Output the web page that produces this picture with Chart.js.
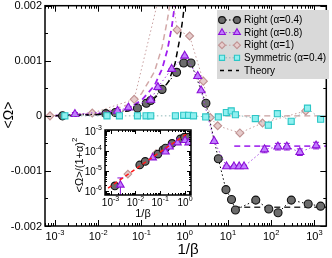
<!DOCTYPE html>
<html>
<head>
<meta charset="utf-8">
<script src="https://cdn.jsdelivr.net/npm/chart.js@4.4.0/dist/chart.umd.min.js"></script>
<style>
  html, body { margin: 0; padding: 0; background: #fff; }
  #wrap { position: relative; width: 332px; height: 258px; }
  canvas { position: absolute; left: 0; top: 0; }
</style>
</head>
<body>
<div id="wrap">
  <canvas id="mainChart" width="332" height="258"></canvas>
  <canvas id="insetChart" width="332" height="258"></canvas>
</div>
<script>
// ---- data ----
// main panel: <Omega> vs 1/beta
const r04X = [0.0015, 0.015, 0.025, 0.081, 0.13, 0.164, 0.30, 0.65, 0.95, 1.4, 3.1, 6.0, 9.0, 12.1, 14.9, 44, 88, 144, 292, 717, 1390];
const r04Y = [0.0, 0.00004, 0.00006, 0.00014, 0.00023, 0.00028, 0.00048, 0.00079, 0.00096, 0.00096, 0.00023, -0.00078, -0.00134, -0.00152, -0.00171, -0.00153, -0.00169, -0.00176, -0.00153, -0.00160, -0.00164];

const r08X = [0.0029, 0.028, 0.050, 0.164, 0.24, 0.50, 1.0, 2.0, 2.4, 4.8, 9.3, 13.8, 18.2, 23.6, 70, 143, 230, 460, 1090];
const r08Y = [0.00003, 0.00009, 0.00015, 0.00029, 0.00052, 0.00085, 0.00109, 0.00072, 0.00046, -0.00046, -0.00092, -0.00092, -0.00092, -0.00092, -0.00061, -0.00056, -0.00056, -0.00066, -0.00054];
const r08Err = [0.00003, 0.00001, 0.00001, 0.00001, 0.00001, 0.00001, 0.00001, 0.00001, 0.00001, 0.00001, 0.00002, 0.00002, 0.00002, 0.00002, 0.00006, 0.00006, 0.00006, 0.00006, 0.00006];

const r1X = [0.00077, 0.0073, 0.068, 0.40, 0.67, 1.3, 2.7, 3.9, 5.8, 18.9, 63, 630];
const r1Y = [0.0, 0.00005, 0.0003, 0.0028, 0.00156, 0.00145, 0.00063, -0.00003, -0.00018, -0.00031, -0.00013, 0.00009];

const symX = [0.0017, 0.016, 0.031, 0.081, 0.128, 0.164, 0.61, 0.95, 1.23, 1.6, 3.06, 6.0, 9.2, 11.9, 14.9, 43, 86, 139, 290, 690, 1390];
const symY = [0.0, 0.0, 0.0, 0.0, 0.0, 0.0, 0.0, 0.00001, 0.00001, 0.0, -0.00002, -0.00002, 0.00006, 0.00009, 0.00002, -0.00005, -0.00017, 0.00004, -0.0001, 0.00014, -0.00006];

// theory curves (dashed)
const th04X = [0.0006, 0.01, 0.05, 0.1, 0.2, 0.3, 0.43, 0.6, 0.8, 0.9, 1.0];
const th04Y = [0.0, 0.00002, 0.00009, 0.00017, 0.00032, 0.00046, 0.00063, 0.00095, 0.00147, 0.00175, 0.00205];
const th08X = [0.0006, 0.01, 0.05, 0.1, 0.2, 0.3, 0.4, 0.5, 0.6];
const th08Y = [0.0, 0.00003, 0.00014, 0.00028, 0.00055, 0.00085, 0.0012, 0.0016, 0.00205];
const th1X = [0.0006, 0.01, 0.05, 0.1, 0.2, 0.3, 0.4, 0.46];
const th1Y = [0.0, 0.00004, 0.0002, 0.0004, 0.0008, 0.00125, 0.00175, 0.00205];
const thHiX = [14, 1880];
const thHi04Y = [-0.00166, -0.00166];
const thHi08Y = [-0.00055, -0.00055];
const thHi1Y = [0.0, 0.0];
const th1LowX = [3, 14];
const th1LowY = [0.0, 0.0];

const xTickExps = [-3, -2, -1, 0, 1, 2, 3];
const yTickVals = [0.002, 0.001, 0, -0.001, -0.002];
const yTickLabels = ['0.002', '0.001', '0', '-0.001', '-0.002'];

const legendLabels = ['Right (\u03b1=0.4)', 'Right (\u03b1=0.8)', 'Right (\u03b1=1)', 'Symmetric (\u03b1=0.4)', 'Theory'];

// inset: <Omega>/(1+alpha)^2 vs 1/beta, log-log
const inR04X = [0.0015, 0.015, 0.025, 0.081, 0.13, 0.164, 0.30, 0.65, 0.95, 1.4];
const inR04Y = [1.8e-6, 2e-5, 3e-5, 7e-5, 1.15e-4, 1.4e-4, 2.4e-4, 4e-4, 4.9e-4, 4.9e-4];
const inR08X = [0.0025, 0.05, 0.164, 0.24, 0.5, 1.0, 1.4];
const inR08Y = [2e-6, 4.6e-5, 9e-5, 1.6e-4, 2.6e-4, 3.4e-4, 2.6e-4];
const inR08Err = [2.5e-6, 0, 0, 0, 0, 0, 0];
const inR1X = [0.005, 0.068, 0.67, 1.3];
const inR1Y = [7e-6, 7.5e-5, 3.9e-4, 3.6e-4];
const fitX = [0.0008, 1.3];
const fitY = [1.4e-6, 8e-4];
const insetXExps = [-3, -2, -1, 0];
const insetYExps = [-3, -4, -5, -6];

// ---- styles ----
const FONT = '"Liberation Sans", Arial, Helvetica, sans-serif';
const st = {
  r04: { pointStyle: 'circle', radius: 4, bg: '#6c6c6c', border: '#111', line: '#000' },
  r08: { pointStyle: 'triangle', radius: 4.6, bg: '#c27cff', border: '#8c10d8', line: '#a040e0' },
  r1: { pointStyle: 'rectRot', radius: 4, bg: '#e6cccc', border: '#c09292', line: '#c8a0a0' },
  sym: { pointStyle: 'rect', radius: 4.3, bg: '#90f0f0', border: '#2cc6c6', line: '#8fb8b8' }
};

const pts = (xs, ys) => xs.map((x, i) => ({ x: x, y: ys[i] }));

function markerSet(label, xs, ys, s, order) {
  return {
    label: label, data: pts(xs, ys), order: order,
    pointStyle: s.pointStyle, pointRadius: s.radius, pointBackgroundColor: s.bg,
    pointBorderColor: s.border, pointBorderWidth: 1.1,
    borderColor: s.line, borderWidth: 1, borderDash: [1.5, 2.5], fill: false
  };
}
function dashSet(xs, ys, color, width) {
  return {
    label: '', data: pts(xs, ys), order: 20, pointRadius: 0,
    borderColor: color, borderWidth: width, borderDash: [6, 4], fill: false
  };
}

function logValues(min, max) {
  const out = [];
  for (let d = Math.floor(Math.log10(min)); d <= Math.ceil(Math.log10(max)); d++) {
    for (let m = 1; m < 10; m++) {
      const v = m * Math.pow(10, d);
      if (v >= min && v <= max) out.push({ v: v, major: m === 1 });
    }
  }
  return out;
}

function powLabel(ctx, cx, baseY, exp, fs, es, align) {
  ctx.font = fs + 'px ' + FONT;
  const bw = ctx.measureText('10').width;
  ctx.font = es + 'px ' + FONT;
  const ew = ctx.measureText(String(exp)).width;
  const total = bw + ew;
  const x0 = align === 'right' ? cx - total : cx - total / 2;
  ctx.textAlign = 'left';
  ctx.textBaseline = 'alphabetic';
  ctx.font = fs + 'px ' + FONT;
  ctx.fillText('10', x0, baseY);
  ctx.font = es + 'px ' + FONT;
  ctx.fillText(String(exp), x0 + bw, baseY - fs * 0.5);
}

function drawFrameAndTicks(chart, majorLen, minorLen, yLog) {
  const { ctx, chartArea: a, scales } = chart;
  const xs = scales.x, ys = scales.y;
  ctx.save();
  ctx.strokeStyle = '#000';
  ctx.lineWidth = 1;
  ctx.beginPath();
  logValues(xs.min, xs.max).forEach(t => {
    const px = Math.round(xs.getPixelForValue(t.v)) + 0.5;
    const len = t.major ? majorLen : minorLen;
    ctx.moveTo(px, a.bottom); ctx.lineTo(px, a.bottom - len);
    ctx.moveTo(px, a.top); ctx.lineTo(px, a.top + len);
  });
  let yt;
  if (yLog) {
    yt = logValues(ys.min, ys.max);
  } else {
    yt = [];
    for (let k = -4; k <= 4; k++) yt.push({ v: k * 0.0005, major: k % 2 === 0 });
  }
  yt.forEach(t => {
    const py = Math.round(ys.getPixelForValue(t.v)) + 0.5;
    const len = t.major ? majorLen : minorLen;
    ctx.moveTo(a.left, py); ctx.lineTo(a.left + len, py);
    ctx.moveTo(a.right, py); ctx.lineTo(a.right - len, py);
  });
  ctx.stroke();
  ctx.lineWidth = 1.5;
  ctx.strokeRect(a.left, a.top, a.right - a.left, a.bottom - a.top);
  ctx.restore();
}

function drawErrors(chart, xs, ys, errs) {
  const { ctx, chartArea: a, scales } = chart;
  ctx.save();
  ctx.beginPath();
  ctx.rect(a.left, a.top, a.right - a.left, a.bottom - a.top);
  ctx.clip();
  ctx.strokeStyle = st.r08.border;
  ctx.lineWidth = 1;
  ctx.beginPath();
  xs.forEach((x, i) => {
    if (!errs[i]) return;
    const px = scales.x.getPixelForValue(x);
    const lo = scales.y.getPixelForValue(Math.max(ys[i] - errs[i], scales.y.min));
    const hi = scales.y.getPixelForValue(ys[i] + errs[i]);
    ctx.moveTo(px, lo); ctx.lineTo(px, hi);
    ctx.moveTo(px - 3, lo); ctx.lineTo(px + 3, lo);
    ctx.moveTo(px - 3, hi); ctx.lineTo(px + 3, hi);
  });
  ctx.stroke();
  ctx.restore();
}

function drawLegend(ctx) {
  ctx.save();
  ctx.fillStyle = '#d9d9d9';
  ctx.fillRect(217, 10, 112, 69);
  const rows = [st.r04, st.r08, st.r1, st.sym];
  const x1 = 222, x2 = 237;
  for (let i = 0; i < 5; i++) {
    const y = 20 + i * 12.6;
    if (i < 4) {
      const s = rows[i];
      ctx.strokeStyle = s.line;
      ctx.lineWidth = 1;
      ctx.setLineDash([1.5, 2]);
      ctx.beginPath(); ctx.moveTo(x1, y); ctx.lineTo(x2, y); ctx.stroke();
      ctx.setLineDash([]);
      [x1, x2].forEach(px => {
        ctx.fillStyle = s.bg;
        ctx.strokeStyle = s.border;
        ctx.lineWidth = 1.1;
        Chart.helpers.drawPoint(ctx, { pointStyle: s.pointStyle, radius: s.radius * 0.85, rotation: 0, borderWidth: 1.1 }, px, y);
      });
    } else {
      ctx.strokeStyle = '#000';
      ctx.lineWidth = 1.5;
      ctx.setLineDash([4, 4]);
      ctx.beginPath(); ctx.moveTo(x1 - 2, y); ctx.lineTo(x2 + 2, y); ctx.stroke();
      ctx.setLineDash([]);
    }
    ctx.fillStyle = '#000';
    ctx.font = '10px ' + FONT;
    ctx.textAlign = 'left';
    ctx.textBaseline = 'middle';
    ctx.fillText(legendLabels[i], 244, y + 0.5);
  }
  ctx.restore();
}

const mainPlugin = {
  id: 'mainDecor',
  beforeDatasetsDraw(chart) {
    drawErrors(chart, r08X, r08Y, r08Err);
  },
  afterDraw(chart) {
    const { ctx, chartArea: a, scales } = chart;
    drawFrameAndTicks(chart, 6, 3, false);
    ctx.save();
    ctx.fillStyle = '#000';
    // y tick labels
    ctx.font = '11px ' + FONT;
    ctx.textAlign = 'right';
    ctx.textBaseline = 'middle';
    yTickVals.forEach((v, i) => {
      ctx.fillText(yTickLabels[i], a.left - 3, scales.y.getPixelForValue(v) + 0.5);
    });
    // x tick labels
    xTickExps.forEach(e => {
      powLabel(ctx, scales.x.getPixelForValue(Math.pow(10, e)), 240, e, 11, 7.5, 'center');
    });
    // axis titles
    ctx.font = '15px ' + FONT;
    ctx.textAlign = 'center';
    ctx.textBaseline = 'middle';
    ctx.fillText('1/\u03b2', 188, 250);
    ctx.save();
    ctx.translate(9, 115);
    ctx.rotate(-Math.PI / 2);
    ctx.font = '14px ' + FONT;
    ctx.fillText('<\u03a9>', 0, 0);
    ctx.restore();
    ctx.restore();
    drawLegend(ctx);
  }
};

const insetPlugin = {
  id: 'insetDecor',
  beforeDraw(chart) {
    const { ctx, chartArea: a } = chart;
    ctx.save();
    ctx.fillStyle = '#fff';
    ctx.fillRect(a.left, a.top, a.right - a.left, a.bottom - a.top);
    ctx.restore();
  },
  beforeDatasetsDraw(chart) {
    drawErrors(chart, inR08X, inR08Y, inR08Err);
  },
  afterDraw(chart) {
    const { ctx, chartArea: a, scales } = chart;
    drawFrameAndTicks(chart, 4, 2, true);
    ctx.save();
    ctx.fillStyle = '#000';
    insetYExps.forEach(e => {
      powLabel(ctx, a.left - 3, scales.y.getPixelForValue(Math.pow(10, e)) + 4, e, 10, 7, 'right');
    });
    insetXExps.forEach(e => {
      powLabel(ctx, scales.x.getPixelForValue(Math.pow(10, e)), 206, e, 10, 7, 'center');
    });
    ctx.font = '11px ' + FONT;
    ctx.textAlign = 'center';
    ctx.textBaseline = 'middle';
    ctx.fillText('1/\u03b2', 143, 214);
    // rotated y title with superscript 2
    ctx.save();
    ctx.translate(79, 165);
    ctx.rotate(-Math.PI / 2);
    ctx.font = '11px ' + FONT;
    const t = '<\u03a9>/(1+\u03b1)';
    const w = ctx.measureText(t).width;
    ctx.font = '8px ' + FONT;
    const w2 = ctx.measureText('2').width;
    const x0 = -(w + w2) / 2;
    ctx.textAlign = 'left';
    ctx.textBaseline = 'alphabetic';
    ctx.font = '11px ' + FONT;
    ctx.fillText(t, x0, 4);
    ctx.font = '8px ' + FONT;
    ctx.fillText('2', x0 + w, -2);
    ctx.restore();
    ctx.restore();
  }
};

const commonOpts = {
  responsive: false,
  animation: false,
  events: [],
  plugins: { legend: { display: false }, tooltip: { enabled: false } },
  elements: { line: { tension: 0 } }
};

new Chart(document.getElementById('mainChart').getContext('2d'), {
  type: 'line',
  data: {
    datasets: [
      markerSet('Right (\u03b1=0.4)', r04X, r04Y, st.r04, 3),
      markerSet('Right (\u03b1=0.8)', r08X, r08Y, st.r08, 2),
      markerSet('Right (\u03b1=1)', r1X, r1Y, st.r1, 4),
      markerSet('Symmetric (\u03b1=0.4)', symX, symY, st.sym, 1),
      dashSet(th04X, th04Y, '#000', 1.5),
      dashSet(th08X, th08Y, '#a020f0', 1.8),
      dashSet(th1X, th1Y, '#d2a8a8', 1.5),
      dashSet(thHiX, thHi04Y, '#333', 1.5),
      dashSet(thHiX, thHi08Y, '#a838f0', 1.8),
      dashSet(th1LowX, th1LowY, '#c8a0a0', 1.2),
      dashSet(thHiX, thHi1Y, '#c8a0a0', 1.2)
    ]
  },
  options: Object.assign({}, commonOpts, {
    layout: { padding: { left: 45, top: 4, right: 3, bottom: 32 } },
    scales: {
      x: { type: 'logarithmic', min: 5.9e-4, max: 1.88e3, display: false },
      y: { type: 'linear', min: -0.002, max: 0.002, display: false }
    }
  }),
  plugins: [mainPlugin]
});

new Chart(document.getElementById('insetChart').getContext('2d'), {
  type: 'line',
  data: {
    datasets: [
      markerSet('', inR04X, inR04Y, Object.assign({}, st.r04, { radius: 3.8, line: 'rgba(0,0,0,0)' }), 3),
      markerSet('', inR08X, inR08Y, Object.assign({}, st.r08, { radius: 4.3, line: 'rgba(0,0,0,0)' }), 2),
      markerSet('', inR1X, inR1Y, Object.assign({}, st.r1, { radius: 3.8, line: 'rgba(0,0,0,0)' }), 4),
      { label: '', data: pts(fitX, fitY), order: 1, pointRadius: 0, borderColor: '#ff1a1a', borderWidth: 1.5, borderDash: [4, 3], fill: false }
    ]
  },
  options: Object.assign({}, commonOpts, {
    layout: { padding: { left: 105, top: 130, right: 141, bottom: 63 } },
    scales: {
      x: { type: 'logarithmic', min: 6.3e-4, max: 1.74, display: false },
      y: { type: 'logarithmic', min: 6.3e-7, max: 1.12e-3, display: false }
    }
  }),
  plugins: [insetPlugin]
});
</script>
</body>
</html>
